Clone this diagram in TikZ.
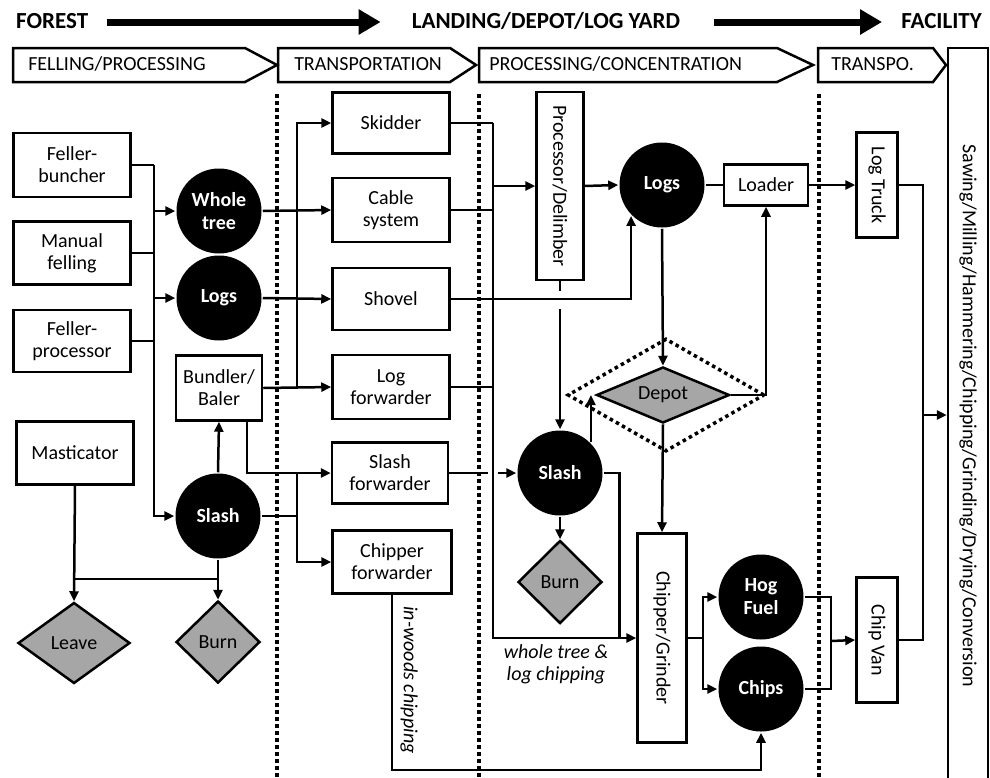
\documentclass[tikz,border=0pt]{standalone}
\usepackage{fontspec}
\setmainfont{Carlito}
\usetikzlibrary{arrows.meta,shapes.geometric}

\begin{document}
\begin{tikzpicture}[x=1pt,y=-1pt,>={Triangle[length=10pt,width=9pt]},line width=2.5pt,font=\fontsize{20}{22}\selectfont]
    \pgfmathsetmacro{\pagew}{990}
    \pgfmathsetmacro{\pageh}{777}
    \tikzset{
      box/.style={draw,fill=white,align=center,inner sep=2pt},
      blob/.style={circle,fill=black,text=white,font=\fontsize{20}{23}\selectfont\bfseries,minimum size=85pt,inner sep=0pt,align=center},
      sink/.style={diamond,draw,fill=gray!70,inner sep=0pt},
      phase/.style={draw,line width=2.5pt},
      phasetext/.style={anchor=west,inner sep=0pt,text height=14pt,text depth=4pt},
      head/.style={font=\fontsize{23}{26}\selectfont\bfseries,inner sep=0pt,text height=16pt,text depth=4pt},
      bigarrow/.style={line width=7pt,-{Triangle[length=22pt,width=24pt]}},
      divider/.style={line width=3.5pt,dash pattern=on 3.5pt off 3.5pt},
      note/.style={font=\fontsize{20}{22}\selectfont\itshape,align=center}
    }
    \useasboundingbox (0,0) rectangle (\pagew,\pageh);
    \clip (0,0) rectangle (\pagew,\pageh);

    \node[head,anchor=west] (forest) at (15,22) {FOREST};
    \node[head] (landing) at (546,22) {LANDING/DEPOT/LOG YARD};
    \node[head,anchor=east] (facility) at (983,22) {FACILITY};
    \draw[bigarrow,shorten <=18pt,shorten >=30pt] (forest.east) -- (landing.west);
    \draw[bigarrow,shorten <=33pt,shorten >=18pt] (landing.east) -- (facility.west);

    \draw[phase] (13,48) -- (245,48) -- (277,65) -- (245,82) -- (13,82) -- cycle;
    \draw[phase] (278,48) -- (450,48) -- (476,65) -- (450,82) -- (278,82) -- cycle;
    \draw[phase] (479,48) -- (777,48) -- (813,65) -- (777,82) -- (479,82) -- cycle;
    \draw[phase] (818,48) -- (933,48) -- (946,65) -- (933,82) -- (818,82) -- cycle;
    \node[phasetext] (fellph) at (27,65) {FELLING/PROCESSING};
    \node[phasetext] (transph) at (293,65) {TRANSPORTATION};
    \node[phasetext] (procph) at (488,65) {PROCESSING/CONCENTRATION};
    \node[phasetext] (transpoph) at (830,65) {TRANSPO.};

    \foreach \xd in {277,479,819}
      \draw[divider] (\xd,94) -- (\xd,\pageh);

    \node[box,minimum width=40pt,minimum height=736pt,label={[rotate=-90]center:Sawing/Milling/Hammering/Chipping/Grinding/Drying/Conversion}] (mill) at (968,416) {};

    \node[box,minimum width=117pt,minimum height=64pt] (fb) at (72,165) {Feller-\\buncher};
    \node[box,minimum width=117pt,minimum height=63pt] (mf) at (72,253) {Manual\\felling};
    \node[box,minimum width=117pt,minimum height=62pt] (fp) at (72,341) {Feller-\\processor};
    \node[box,minimum width=117pt,minimum height=63pt] (mast) at (75,453) {Masticator};
    \node[blob] (wtree) at (219,211) {Whole\\tree};
    \node[blob] (logsA) at (219,298) {Logs};
    \node[blob] (slashA) at (218,516) {Slash};
    \node[box,minimum width=86pt,minimum height=65pt] (bundler) at (219,388) {Bundler/\\Baler};
    \node[sink,aspect=1.4,minimum width=112pt,minimum height=81pt] (leave) at (74,643) {Leave};
    \node[sink,minimum width=84pt,minimum height=82pt] (burnA) at (218,642) {Burn};

    \node[box,minimum width=117pt,minimum height=61pt] (skidder) at (391,123) {Skidder};
    \node[box,minimum width=117pt,minimum height=64pt] (cable) at (391,210) {Cable\\system};
    \node[box,minimum width=117pt,minimum height=62pt] (shovel) at (391,299) {Shovel};
    \node[box,minimum width=117pt,minimum height=64pt] (logfwd) at (391,387) {Log\\forwarder};
    \node[box,minimum width=116pt,minimum height=61pt] (slashfwd) at (390,473) {Slash\\forwarder};
    \node[box,minimum width=119pt,minimum height=63pt] (chipfwd) at (392,562) {Chipper\\forwarder};

    \node[box,minimum width=47pt,minimum height=188pt,label={[rotate=-90]center:Processor/Delimber}] (proc) at (560,186) {};
    \node[blob] (logsB) at (662,185) {Logs};
    \node[blob] (slashB) at (560,473) {Slash};
    \node[sink,minimum width=84pt,minimum height=83pt] (burnB) at (560,582) {Burn};
    \node[diamond,draw,divider,minimum width=197pt,minimum height=113pt] (depotzone) at (666,395) {};
    \node[sink,aspect=2.4,minimum width=133pt,minimum height=56pt] (depot) at (663,395) {Depot};
    \node[box,minimum width=84pt,minimum height=41pt] (loader) at (766,185) {Loader};
    \node[box,minimum width=49pt,minimum height=209pt,label={[rotate=-90]center:Chipper/Grinder}] (chipgr) at (662,638) {};
    \node[blob] (hog) at (761,597) {Hog\\Fuel};
    \node[blob] (chips) at (761,689) {Chips};
    \node[box,minimum width=41pt,minimum height=105pt,label={[rotate=-90]center:Log Truck}] (logtruck) at (877,185) {};
    \node[box,minimum width=41pt,minimum height=125pt,label={[rotate=-90]center:Chip Van}] (chipvan) at (877,640) {};

    \node[note] (wtnote) at (556,664) {whole tree \&\\log chipping};
    \node[note,rotate=-90] (inwoods) at (409,680) {in-woods chipping};

    \coordinate (fellbus) at (154,165);
    \draw (fb.east) -- (fellbus);
    \draw (mf.east) -- (mf.east -| fellbus);
    \draw (fp.east) -- (fp.east -| fellbus);
    \draw[->] (fellbus) |- (slashA.west);
    \draw[->] (fellbus |- wtree) -- (wtree.west);
    \draw[->] (fellbus |- logsA) -- (logsA.west);

    \coordinate (lvl) at (0,579);
    \draw[->] (mast.south) -- (leave.north);
    \draw[->] (slashA.south) -- (burnA.north);
    \draw (mast.south |- lvl) -- (slashA.south |- lvl);
    \draw[->] (slashA.north) -- (bundler.south);

    \coordinate (tbus) at (297,123);
    \draw[->] (wtree.east) -- (cable.west);
    \draw[->] (logsA.east) -- (shovel.west);
    \draw[->] (bundler.east) -- (logfwd.west);
    \draw[->] (tbus |- logfwd) |- (skidder.west);
    \draw[->] ([xshift=28pt]bundler.south) |- (slashfwd.west);
    \coordinate (slbus) at (297,473);
    \draw (slashA.east) -- (slashA.east -| slbus);
    \draw[->] (slbus) |- (chipfwd.west);

    \coordinate (lbus) at (493,123);
    \draw (skidder.east) -- (lbus);
    \draw (cable.east) -- (cable.east -| lbus);
    \draw (logfwd.east) -- (logfwd.east -| lbus);
    \draw[->] (lbus) |- (chipgr.west);
    \draw[->] (lbus |- proc) -- (proc.west);
    \draw[->] (shovel.east) -| (logsB.south west);

    \draw[->] (proc.east) -- (logsB.west);
    \draw (proc.south) -- ++(0,10);
    \draw[->] ([yshift=-28pt]proc.south) -- (slashB.north);
    \draw (slashfwd.east) -- ++(39,0);
    \draw[->] ([xshift=-18pt]slashB.west) -- (slashB.west);
    \draw[->] (slashB.south) -- (burnB.north);
    \draw (slashB.east) -| ([xshift=-17pt]chipgr.west);
    \draw[->] (slashB.north east) -- (slashB.north east |- depot.west);
    \draw[->] (logsB.south) -- (depot.north);
    \draw[->] (depot.east) -| (loader.south);
    \draw (logsB.east) -- (loader.west);
    \draw[->] (loader.east) -- (logtruck.west);
    \draw[->] (depot.south) -- (chipgr.north);

    \draw[->] (chipgr.east) -- ++(15,0) |- (hog.west);
    \draw[->] (chipgr.east) ++(15,0) |- (chips.west);
    \coordinate (vanbus) at (831,641);
    \draw (hog.east) -| (vanbus);
    \draw (chips.east) -| (vanbus);
    \draw[->] (vanbus) -- (chipvan.west);
    \draw[->] (chipfwd.south) -- ++(0,175) -| (chips.south);

    \coordinate (facbus) at (923,415);
    \draw (logtruck.east) -| (facbus);
    \draw (chipvan.east) -| (facbus);
    \draw[->] (facbus) -- (facbus -| mill.west);

\end{tikzpicture}
\end{document}
